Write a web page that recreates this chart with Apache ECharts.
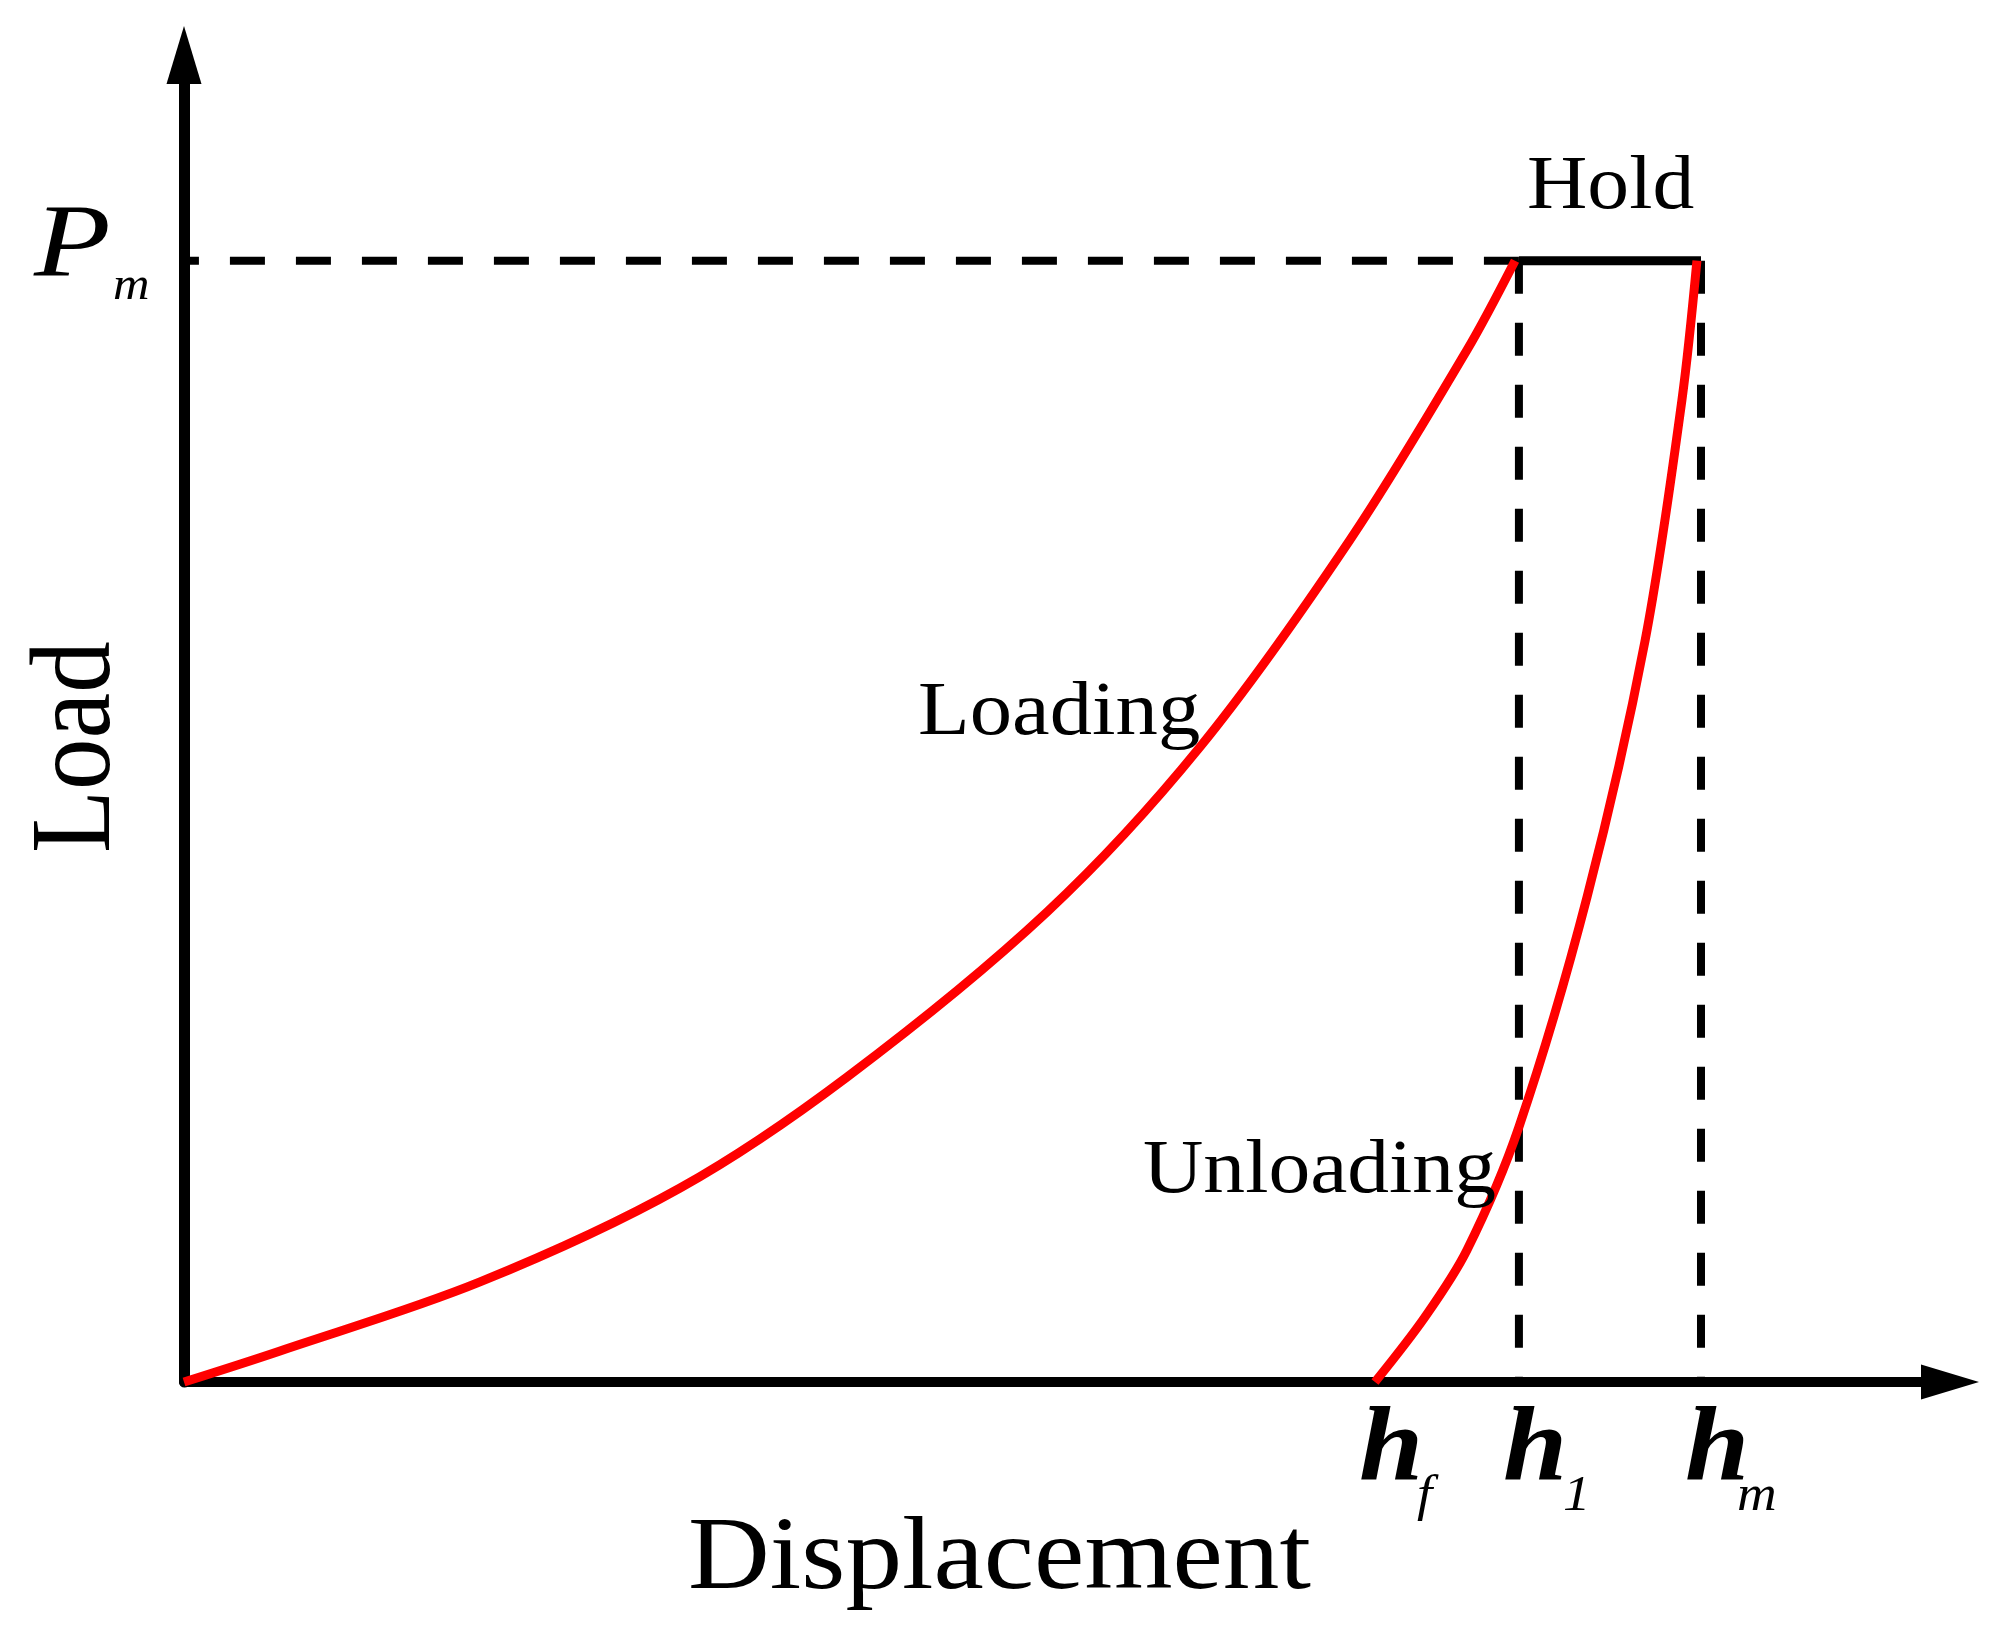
<!DOCTYPE html>
<html>
<head>
<meta charset="utf-8">
<script src="https://cdn.jsdelivr.net/npm/echarts@6/dist/echarts.min.js"></script>
<style>
  html, body { margin: 0; padding: 0; background: #fff; }
  #chart { width: 2010px; height: 1648px; }
</style>
</head>
<body>
<div id="chart"></div>
<script>
// loading branch (displacement, load)
const loadingX = [0, 5.44, 16.76, 28.09, 37.54, 48.87, 57.53, 66.02, 72.65, 75.37];
const loadingY = [0, 2.34, 7.54, 14.62, 22.98, 35.42, 47.85, 63.45, 77.77, 84.5];
// unloading branch
const unloadX = [67.44, 70.27, 72.65, 75.59, 79.45, 82.73, 84.82, 85.67];
const unloadY = [0, 4.90, 9.95, 19.22, 36.55, 55.84, 74.00, 84.5];
// reference levels
const Pm = 84.5;
const hf = 67.44, h1 = 75.59, hm = 85.9;
const hLabels = [
	{ x: hf, main: 'h', sub: 'f', subDx: 42 },
	{ x: h1, main: 'h', sub: '1', subDx: 44 },
	{ x: hm, main: 'h', sub: 'm', subDx: 36 },
];

const FONT = "'Liberation Serif', 'Times New Roman', serif";
const pairs = (xs, ys) => xs.map((v, i) => [v, ys[i]]);

let chart = echarts.init(document.getElementById('chart'));
let axisLine = (w) => ({
	show: true,
	symbol: ['none', 'triangle'],
	symbolSize: [35, 58],
	lineStyle: { color: '#000', width: w },
});
chart.setOption({
	animation: false,
	backgroundColor: '#fff',
	grid: { left: 184, right: 60, top: 55, bottom: 266 },
	xAxis: {
		type: 'value', min: 0, max: 100,
		axisLine: axisLine(10),
		axisTick: { show: false }, axisLabel: { show: false }, splitLine: { show: false },
	},
	yAxis: {
		type: 'value', min: 0, max: 100,
		axisLine: axisLine(11),
		axisTick: { show: false }, axisLabel: { show: false }, splitLine: { show: false },
	},
	series: [
		{ // Pm dashed guide, drawn from h1 back to the axis
			type: 'line', data: [[h1, Pm], [0, Pm]], symbol: 'none', z: 1,
			lineStyle: { color: '#000', width: 8, type: [35, 31] },
		},
		{
			type: 'line', data: [[h1, Pm], [h1, 0]], symbol: 'none', z: 1,
			lineStyle: { color: '#000', width: 8, type: [33, 29] },
		},
		{
			type: 'line', data: [[hm, Pm], [hm, 0]], symbol: 'none', z: 1,
			lineStyle: { color: '#000', width: 8, type: [33, 29] },
		},
		{ // hold
			type: 'line', data: [[h1, Pm], [hm, Pm]], symbol: 'none', z: 2,
			lineStyle: { color: '#000', width: 9 },
		},
		{
			type: 'line', data: pairs(loadingX, loadingY), symbol: 'none', smooth: 0.33, z: 3,
			lineStyle: { color: '#ff0000', width: 9 },
		},
		{
			type: 'line', data: pairs(unloadX, unloadY), symbol: 'none', smooth: 0.33, z: 3,
			lineStyle: { color: '#ff0000', width: 9 },
		},
	],
});

// text helper: anchor at left edge, vertical middle
function txt(str, x, y, size, opts = {}) {
	return {
		type: 'text', x: x, y: y, z: 10,
		rotation: opts.rotation || 0,
		scaleX: opts.scaleX || 1.1,
		scaleY: opts.scaleY || 1,
		style: {
			text: str, x: 0, y: 0,
			fontFamily: FONT, fontSize: size,
			fontStyle: opts.italic ? 'italic' : 'normal',
			fontWeight: opts.bold ? 'bold' : 'normal',
			fill: '#000', align: 'left', verticalAlign: 'middle',
		},
	};
}

let pmY = chart.convertToPixel({ gridIndex: 0 }, [0, Pm])[1];
let graphics = [
	txt('Hold', 1527, 188, 76),
	txt('Loading', 918, 714, 77),
	txt('Unloading', 1143, 1172, 76),
	txt('Displacement', 688, 1561, 103),
	txt('Load', 79, 853, 103, { rotation: Math.PI / 2, scaleX: 1, scaleY: 1.12 }),
	txt('P', 34, pmY - 12, 103, { italic: true, scaleX: 1.22 }),
	txt('m', 113, pmY + 26, 46, { italic: true }),
];
hLabels.forEach((e) => {
	let px = chart.convertToPixel({ gridIndex: 0 }, [e.x, 0])[0];
	graphics.push(txt(e.main, px - 16, 1453, 105, { italic: true, bold: true }));
	graphics.push(txt(e.sub, px + e.subDx, 1497, 50, { italic: true }));
});
chart.setOption({ graphic: graphics });
</script>
</body>
</html>
